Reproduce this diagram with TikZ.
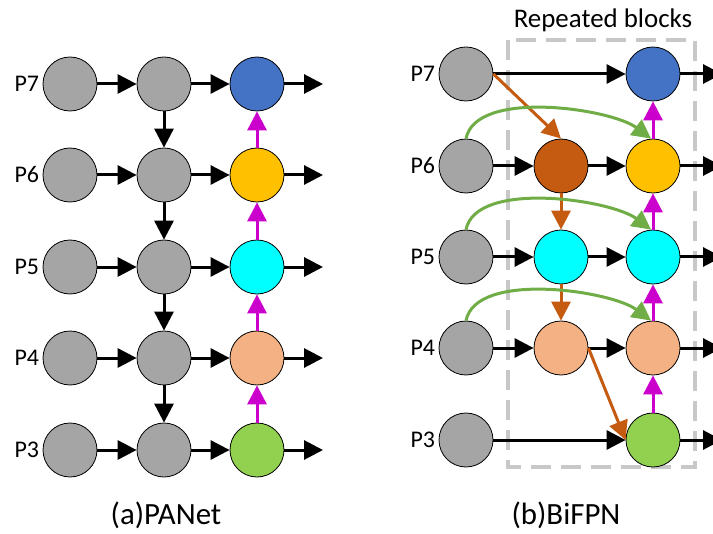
\documentclass[tikz,border=0pt]{standalone}
\usepackage{fontspec}
\setmainfont{Carlito}
\usetikzlibrary{arrows.meta}
\definecolor{featgray}{HTML}{A5A5A5}
\definecolor{featblue}{HTML}{4472C4}
\definecolor{featyellow}{HTML}{FFC000}
\definecolor{featcyan}{HTML}{00FFFF}
\definecolor{featsalmon}{HTML}{F4B183}
\definecolor{featgreen}{HTML}{92D050}
\definecolor{featbrown}{HTML}{C55A11}
\definecolor{downorange}{HTML}{C55A11}
\definecolor{skipgreen}{HTML}{70AD47}
\definecolor{upmagenta}{HTML}{CC00CC}
\definecolor{boxgray}{HTML}{C8C8C8}

\begin{document}
\begin{tikzpicture}[x=1bp,y=-1bp]
	\tikzstyle{feat} = [circle, draw=black, line width=0.8bp, minimum size=54bp, inner sep=0pt]
	\tikzstyle{lbl} = [font=\fontsize{24}{28}\selectfont]
	\tikzstyle{edge} = [draw=black, line width=3bp, -{Triangle[length=19bp,width=19bp]}]
	\tikzstyle{down} = [draw=downorange, line width=3bp, -{Triangle[length=19bp,width=19bp]}]
	\tikzstyle{up} = [draw=upmagenta, line width=3bp, -{Triangle[length=19bp,width=19bp]}]
	\tikzstyle{skip} = [draw=skipgreen, line width=3bp, -{Triangle[length=19bp,width=19bp]}]
	\useasboundingbox (0,0) rectangle (713,534);
	% repeated block frame
	\draw[boxgray, line width=3.5bp, dash pattern=on 20bp off 10bp] (508,40) rectangle (695,467);
	\node[font=\fontsize{27}{31}\selectfont] (rep) at (603,20) {Repeated blocks};

	% (a) PANet
		\node[feat, fill=featgray] (a7) at (70,84)  [label={[lbl]left:P7}] {};
		\node[feat, fill=featgray] (a6) at (70,175) [label={[lbl]left:P6}] {};
		\node[feat, fill=featgray] (a5) at (70,267) [label={[lbl]left:P5}] {};
		\node[feat, fill=featgray] (a4) at (70,358) [label={[lbl]left:P4}] {};
		\node[feat, fill=featgray] (a3) at (70,450) [label={[lbl]left:P3}] {};
		\node[feat, fill=featgray] (b7) at (164,84)  {};
		\node[feat, fill=featgray] (b6) at (164,175) {};
		\node[feat, fill=featgray] (b5) at (164,267) {};
		\node[feat, fill=featgray] (b4) at (164,358) {};
		\node[feat, fill=featgray] (b3) at (164,450) {};
		\node[feat, fill=featblue]   (c7) at (257,84)  {};
		\node[feat, fill=featyellow] (c6) at (257,175) {};
		\node[feat, fill=featcyan]   (c5) at (257,267) {};
		\node[feat, fill=featsalmon] (c4) at (257,358) {};
		\node[feat, fill=featgreen]  (c3) at (257,450) {};
		\coordinate (ca7) at (323,84);
		\coordinate (ca6) at (323,175);
		\coordinate (ca5) at (323,267);
		\coordinate (ca4) at (323,358);
		\coordinate (ca3) at (323,450);
	\draw[edge] (a7) -- (b7);
	\draw[edge] (a6) -- (b6);
	\draw[edge] (a5) -- (b5);
	\draw[edge] (a4) -- (b4);
	\draw[edge] (a3) -- (b3);
	\draw[edge] (b7) -- (c7);
	\draw[edge] (b6) -- (c6);
	\draw[edge] (b5) -- (c5);
	\draw[edge] (b4) -- (c4);
	\draw[edge] (b3) -- (c3);
	\draw[edge] (c7) -- (ca7);
	\draw[edge] (c6) -- (ca6);
	\draw[edge] (c5) -- (ca5);
	\draw[edge] (c4) -- (ca4);
	\draw[edge] (c3) -- (ca3);
	\draw[edge] (b7) -- (b6);
	\draw[edge] (b6) -- (b5);
	\draw[edge] (b5) -- (b4);
	\draw[edge] (b4) -- (b3);
	\draw[up] (c3) -- (c4);
	\draw[up] (c4) -- (c5);
	\draw[up] (c5) -- (c6);
	\draw[up] (c6) -- (c7);
	\node[font=\fontsize{31}{35}\selectfont] (capa) at (166,515) {(a)PANet};

	% (b) BiFPN
		\node[feat, fill=featgray] (i7) at (466,74)  [label={[lbl]left:P7}] {};
		\node[feat, fill=featgray] (i6) at (466,166) [label={[lbl]left:P6}] {};
		\node[feat, fill=featgray] (i5) at (466,257) [label={[lbl]left:P5}] {};
		\node[feat, fill=featgray] (i4) at (466,348) [label={[lbl]left:P4}] {};
		\node[feat, fill=featgray] (i3) at (466,440) [label={[lbl]left:P3}] {};
		\node[feat, fill=featbrown]  (m6) at (561,166) {};
		\node[feat, fill=featcyan]   (m5) at (561,257) {};
		\node[feat, fill=featsalmon] (m4) at (561,348) {};
		\node[feat, fill=featblue]   (o7) at (653,74)  {};
		\node[feat, fill=featyellow] (o6) at (653,166) {};
		\node[feat, fill=featcyan]   (o5) at (653,257) {};
		\node[feat, fill=featsalmon] (o4) at (653,348) {};
		\node[feat, fill=featgreen]  (o3) at (653,440) {};
		\coordinate (co7) at (722,74);
		\coordinate (co6) at (722,166);
		\coordinate (co5) at (722,257);
		\coordinate (co4) at (722,348);
		\coordinate (co3) at (722,440);
	\draw[edge] (i7) -- (o7);
	\draw[edge] (i6) -- (m6);
	\draw[edge] (i5) -- (m5);
	\draw[edge] (i4) -- (m4);
	\draw[edge] (i3) -- (o3);
	\draw[edge] (m6) -- (o6);
	\draw[edge] (m5) -- (o5);
	\draw[edge] (m4) -- (o4);
	\draw[edge] (o7) -- (co7);
	\draw[edge] (o6) -- (co6);
	\draw[edge] (o5) -- (co5);
	\draw[edge] (o4) -- (co4);
	\draw[edge] (o3) -- (co3);
	\draw[down] (i7.east) -- (m6.north);
	\draw[down] (m6) -- (m5);
	\draw[down] (m5) -- (m4);
	\draw[down] (m4.east) -- (o3.west);
	\draw[up] (o3) -- (o4);
	\draw[up] (o4) -- (o5);
	\draw[up] (o5) -- (o6);
	\draw[up] (o6) -- (o7);
	\draw[skip] (i6.north) .. controls +(10,-50) and +(-40,-30) .. ([xshift=-2bp]o6.north);
	\draw[skip] (i5.north) .. controls +(10,-50) and +(-40,-30) .. ([xshift=-2bp]o5.north);
	\draw[skip] (i4.north) .. controls +(10,-50) and +(-40,-30) .. ([xshift=-2bp]o4.north);
	\node[font=\fontsize{31}{35}\selectfont] (capb) at (566,515) {(b)BiFPN};
\end{tikzpicture}
\end{document}
